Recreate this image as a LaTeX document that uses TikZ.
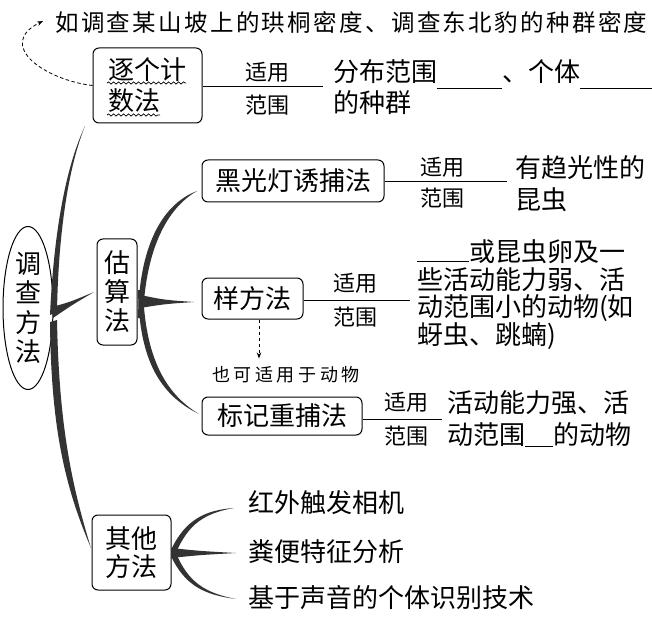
\documentclass[tikz,border=0pt]{standalone}
\usepackage{fontspec}
\setmainfont{Noto Sans CJK SC}
\newfontfamily\handfont{Noto Sans CJK SC}[LetterSpace=10]
\newfontfamily\handfontb{Noto Sans CJK SC}[LetterSpace=20]
\usetikzlibrary{shapes.geometric,decorations.pathmorphing,arrows.meta,calc}
\newcommand\myfs[2]{\fontsize{#1}{#2}\selectfont}
\newcommand\myblank[2]{\rule[#2]{#1}{0.9pt}}
\begin{document}
\begin{tikzpicture}[x=1pt,y=-1pt,
  boxnode/.style={draw, rounded corners=6pt, line width=1pt, inner sep=0pt, align=center},
  main/.style={font=\myfs{26}{29}, inner sep=0pt},
  lbl/.style={font=\myfs{22}{22}, inner sep=0pt},
  txt/.style={font=\myfs{26}{31}, inner sep=0pt, anchor=west, align=left},
  branch/.style={fill=black!80, draw=none},
  conn/.style={line width=1pt},
  dashconn/.style={line width=0.8pt, dash pattern=on 3.5pt off 2.5pt, -{Stealth[length=6pt,width=4.5pt]}},
  hand/.style={inner sep=0pt, anchor=west}
]
\useasboundingbox (0,0) rectangle (652,617);

% top annotation
\node[hand, font=\handfont\myfs{23.5}{23.5}] (top) at (55,22) {如调查某山坡上的珙桐密度、调查东北豹的种群密度};

% main ellipse
\node[draw, ellipse, line width=1pt, minimum width=50pt, minimum height=163pt, inner sep=0pt, align=center, font=\myfs{26}{29.5}] (dc) at (28,308) {调\\查\\方\\法};

% first level boxes
\node[boxnode, main, font=\myfs{26}{31}, minimum width=109pt, minimum height=75pt, align=left] (zg) at (147.5,85.5) {逐个计\\数法};
\node[boxnode, main, minimum width=40pt, minimum height=106pt] (gs) at (117,292) {估\\算\\法};
\node[boxnode, main, font=\myfs{26}{28}, minimum width=79pt, minimum height=75pt] (qt) at (131.5,552.5) {其他\\方法};

% wavy underlines
\draw[line width=0.7pt, decorate, decoration={snake, amplitude=1.1pt, segment length=5pt}] (107,83) -- (186,83);
\draw[line width=0.7pt, decorate, decoration={snake, amplitude=1.1pt, segment length=5pt}] (107,115) -- (160,115);

% second level boxes
\node[boxnode, main, minimum width=182pt, minimum height=42pt] (hg) at (293,181) {黑光灯诱捕法};
\node[boxnode, main, minimum width=101pt, minimum height=41pt] (yf) at (252.5,298.5) {样方法};
\node[boxnode, main, minimum width=160pt, minimum height=38pt] (bj) at (282,416) {标记重捕法};

% tapered branches from main ellipse
\fill[branch] (50,315) .. controls (53,250) and (62,175) .. (85,126) .. controls (65,176) and (58,250) .. (57,312) -- cycle;
\fill[branch] (50,322) .. controls (51,425) and (64,485) .. (91,548) .. controls (70,480) and (59,420) .. (57,320) -- cycle;
\fill[branch] (52,307) .. controls (70,302) .. (94,292) .. controls (72,305) .. (53,318) -- cycle;

% tapered branches from 估算法
\fill[branch] (138,318) .. controls (139,250) and (160,205) .. (197,191) .. controls (164,210) and (145,255) .. (143,318) -- cycle;
\fill[branch] (138,290) .. controls (139,360) and (160,395) .. (199,414) .. controls (164,393) and (145,355) .. (143,290) -- cycle;
\fill[branch] (140,295) .. controls (165,300) .. (194,302) .. controls (165,304) .. (140,308) -- cycle;

% tapered branches from 其他方法
\fill[branch] (171,550) .. controls (185,520) and (205,510) .. (234,508) .. controls (205,513) and (188,524) .. (176,553) -- cycle;
\fill[branch] (171,548) .. controls (200,551) .. (236,553) .. controls (200,555) .. (171,558) -- cycle;
\fill[branch] (171,556) .. controls (185,586) and (205,595) .. (236,599) .. controls (205,593) and (188,582) .. (176,553) -- cycle;

% dashed arrows
\draw[dashconn] (zg.west) .. controls (45,80) and (-5,45) .. ([xshift=-12pt,yshift=1pt]top.west);
\node[hand, font=\handfontb\myfs{18}{18}] (ky) at (212,375) {也可适用于动物};
\draw[dashconn] ([xshift=6.5pt]yf.south) -- ([xshift=6.5pt,yshift=8pt]yf.south |- ky.north);

% row 1: 逐个计数法
\coordinate (e1) at (323,87);
\draw[conn] (zg.east |- e1) -- (e1);
\node[lbl] (s1) at (267.5,72) {适用};
\node[lbl] (r1) at (267.5,105) {范围};
\node[txt] (t1) at (333,87.5) {分布范围\myblank{65pt}{-7pt}、个体\myblank{75pt}{-7pt}\\的种群};

% row 黑光灯诱捕法
\coordinate (e2) at (507,182);
\draw[conn] (hg.east |- e2) -- (e2);
\node[lbl] (s2) at (442.5,167) {适用};
\node[lbl] (r2) at (442.5,198) {范围};
\node[txt, font=\myfs{26}{32}] (t2) at (515,184) {有趋光性的\\昆虫};

% row 样方法
\coordinate (e3) at (410,300);
\draw[conn] (yf.east |- e3) -- (e3);
\node[lbl] (s3) at (355.5,283) {适用};
\node[lbl] (r3) at (355.5,317) {范围};
\node[txt, font=\myfs{26}{27.7}] (t3) at (417,294.5) {\myblank{52pt}{-1pt}或昆虫卵及一\\些活动能力弱、活\\动范围小的动物(如\\蚜虫、跳蝻)};

% row 标记重捕法
\coordinate (e4) at (442,419);
\draw[conn] (bj.east |- e4) -- (e4);
\node[lbl] (s4) at (406,402) {适用};
\node[lbl] (r4) at (406,436) {范围};
\node[txt, font=\myfs{26}{32}] (t4) at (447,419) {活动能力强、活\\动范围\myblank{28pt}{-2pt}的动物};

% other methods
\node[txt] (o1) at (248,503) {红外触发相机};
\node[txt] (o2) at (248,552) {粪便特征分析};
\node[txt] (o3) at (248,598) {基于声音的个体识别技术};
\end{tikzpicture}
\end{document}
